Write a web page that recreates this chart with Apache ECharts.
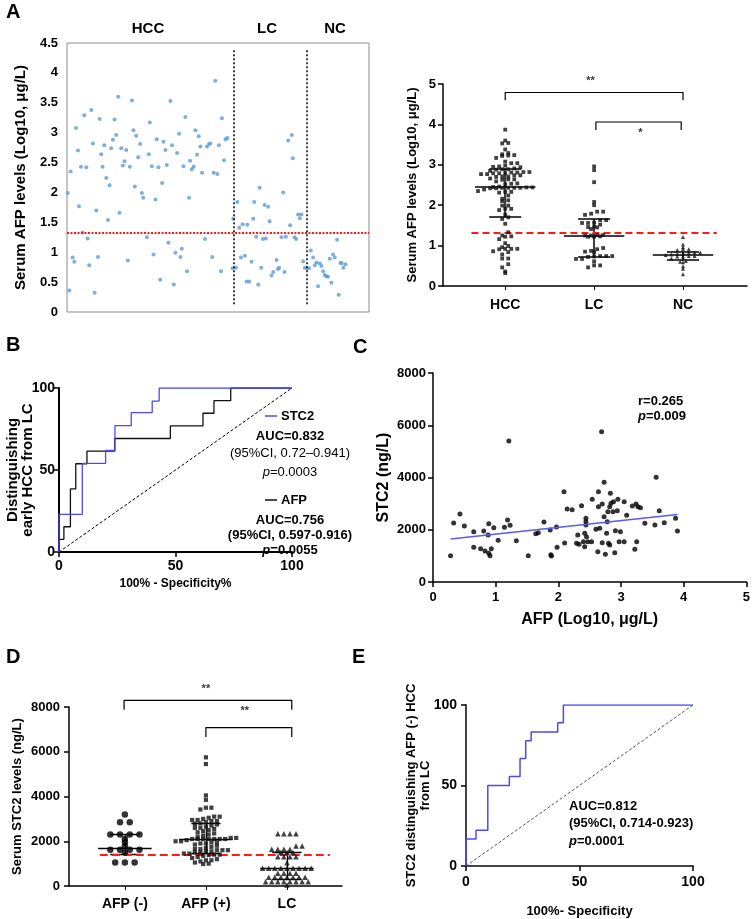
<!DOCTYPE html>
<html><head><meta charset="utf-8">
<script src="https://cdn.jsdelivr.net/npm/echarts@6/dist/echarts.min.js"></script>
<style>html,body{margin:0;padding:0;background:#fff}#c{width:753px;height:919px}</style>
</head><body><div id="c"></div>
<script>
// ---------- Panel A (left): sample position & log10 AFP ----------
const hccPos = [202,207,211,217,222,227,233,236,242,247,252,258,262,267,273,278,283,288,293,298,303,307,312,318,323,328,333,338,343,348,354,358,363,368,373,378,383,389,395,400,404,408,414,420,425,429,440,446,449,455,460,466,470,475,480,486,490,496,500,505,511,516,521,526,531,537,541,545,550,556,561,567,570,575,581,586,591,596,601,606,615,621,627,631,637,641,646,652,657,663,666,672,677,682];
const hccAfp = [1.99,0.36,2.35,0.91,0.84,3.08,2.70,1.77,2.43,1.33,3.29,2.42,1.23,0.78,3.38,2.82,0.32,1.70,0.92,3.23,2.64,2.43,2.79,2.24,1.54,2.12,2.74,2.88,3.22,2.96,3.60,1.66,2.74,2.45,2.52,2.71,0.86,2.43,3.54,3.04,2.10,2.95,2.59,2.81,1.99,1.91,1.25,2.64,3.17,2.44,0.96,1.88,2.89,2.42,0.54,2.16,2.85,2.71,2.46,1.16,3.53,2.79,0.46,0.99,2.66,2.98,0.92,1.06,2.44,3.26,0.68,1.91,2.53,2.39,2.43,3.04,2.63,2.94,2.77,2.33,1.22,2.77,2.81,2.82,0.92,2.33,3.87,2.31,2.79,0.68,3.24,2.54,2.89,2.91];
const lcPos = [698,700,708,712,718,723,728,735,740,742,748,755,760,763,769,775,779,784,789,794,798,805,809,815,820,830,834,838,845,850,854,858,865,871,876,879,884,889,895,900,905,910];
const lcAfp = [0.73,1.56,0.74,1.84,1.41,0.91,1.47,0.94,0.51,1.46,0.51,0.84,1.56,1.84,1.26,0.46,2.08,0.74,1.22,1.79,1.23,1.76,1.52,0.61,0.67,0.87,0.72,0.74,1.25,2.00,0.67,1.26,2.87,1.45,2.96,2.57,1.25,1.22,1.63,1.57,1.63,0.85];
const ncPos = [915,921,928,933,940,945,950,955,960,965,970,975,980,985,990,995,1000,1005,1012,1017,1022,1026,1031,1037];
const ncAfp = [0.74,0.73,0.73,1.03,0.91,0.78,0.83,0.43,0.81,0.77,0.68,0.62,0.60,0.59,0.89,0.49,0.96,0.91,1.21,0.29,0.82,0.82,0.74,0.80];
const afpCutoff = 1.32;
const groupDividers = [700, 920];
const groupsA = ['HCC','LC','NC'];
// Panel A (right) summary: median and interquartile range
const aMed = [2.45, 1.24, 0.77];
const aLow = [1.71, 0.72, 0.64];
const aHigh = [2.90, 1.66, 0.84];

// ---------- Panel B: ROC early HCC vs LC ----------
const bStc2Fpr = [0,0,10,10,20,20,24,24,31,31,40,40,43,43,100];
const bStc2Tpr = [0,23,23,54,54,62,62,77,77,85,85,92,92,100,100];
const bAfpFpr = [0,0,2.1,2.1,4.9,4.9,7.2,7.2,12,12,23.9,23.9,47.8,47.8,61.8,61.8,66.5,66.5,73.7,73.7,100];
const bAfpTpr = [0,7.7,7.7,15.4,15.4,38.5,38.5,53.8,53.8,61.5,61.5,69.2,69.2,76.9,76.9,84.6,84.6,92.3,92.3,100,100];

// ---------- Panel C: STC2 vs AFP ----------
const cAfp = [0.28,0.33,0.43,0.50,0.65,0.65,0.76,0.81,0.83,0.88,0.89,0.89,0.91,0.93,0.97,1.04,1.14,1.19,1.21,1.23,1.33,1.52,1.64,1.68,1.77,1.87,1.88,1.89,1.97,1.98,2.09,2.14,2.10,
2.22,2.37,2.29,2.33,2.31,2.42,2.44,2.44,2.44,2.42,2.45,2.40,2.47,2.53,2.54,2.60,2.64,2.64,2.63,2.66,2.70,2.70,2.73,2.73,2.75,2.69,2.77,2.78,2.79,2.80,2.82,2.82,2.83,2.84,2.87,2.88,2.90,2.91,2.94,2.95,2.97,2.99,3.05,3.05,3.09,3.18,3.22,3.25,3.24,3.27,3.31,3.38,3.54,3.56,3.61,3.69,3.87,3.90];
const cStc2 = [1007,2258,2603,2143,1926,1328,1276,1952,1187,1799,2233,1098,1007,1276,2080,1595,2093,2373,5397,2170,1582,1007,1850,1889,2297,1990,1046,995,2105,1328,3457,2794,1493,
2768,2922,1481,1442,1799,1353,2437,2310,2182,1863,1735,1544,1544,1544,3164,2016,3458,2884,1161,2054,2986,1506,3815,2501,1059,5754,1863,2310,2693,1481,1416,2884,3394,3011,2693,3075,1123,1965,2731,3164,1544,1927,3075,1544,2552,2909,1250,1544,2986,2884,2846,2246,2182,4007,2731,2271,2437,1952];
const regX = [0.28, 3.90];
const regY = [1650, 2585];

// ---------- Panel D: serum STC2 ----------
const groupsD = ['AFP (-)','AFP (+)','LC'];
const dAfpNeg = [3200,2850,2850,2300,2300,2300,2300,2100,1950,1780,1620,1620,1620,1620,1500,1050,1050,1050];
const dAfpPos = [5750,5450,4050,3850,3500,3500,3420,3100,3100,3050,3000,2950,2950,2900,2900,2850,2800,2780,2750,2700,2650,2600,2600,2550,2500,2450,2400,2350,2300,2250,2200,2150,2150,2100,2100,2100,2100,2100,2100,2100,2050,2000,2000,1950,1950,1900,1900,1850,1800,1750,1700,1650,1650,1600,1600,1600,1550,1550,1500,1500,1450,1450,1400,1400,1380,1350,1300,1250,1200,1150,1150,1100,1050,1000,980];
const dLc = [2330,2330,2330,2330,1790,1790,1640,1640,1640,1640,1500,1500,1500,1310,1310,1310,1310,1040,790,790,790,790,790,790,790,790,790,570,570,570,570,390,390,390,390,390,390,390,190,190,190,190,190,190,190,190,50];
const dMed = [1669, 2100, 775];
const dLow = [1400, 1450, 298];
const dHigh = [2300, 2786, 1520];
const stc2Cutoff = 1400;

// ---------- Panel E: ROC AFP(-) HCC vs LC ----------
const eFpr = [0,0,4.4,4.4,9.6,9.6,19.1,19.1,23.8,23.8,26.3,26.3,28.7,28.7,40.4,40.4,42.9,42.9,100];
const eTpr = [0,16.7,16.7,22.2,22.2,50,50,55.6,55.6,66.7,66.7,77.8,77.8,83.3,83.3,88.9,88.9,100,100];

// ---------- helpers ----------
const zip = (a, b) => a.map((v, i) => [v, b[i]]);
function swarm(vals, center, rowH, step) {
  const bins = new Map();
  vals.forEach(v => { const k = Math.round(v / rowH); if (!bins.has(k)) bins.set(k, []); bins.get(k).push(v); });
  const pts = [];
  bins.forEach(arr => { arr.sort((a, b) => a - b); const n = arr.length; arr.forEach((v, i) => pts.push([center + (i - (n - 1) / 2) * step, v])); });
  return pts;
}
function summarySegs(med, low, high, half, cap) {
  const segs = [];
  med.forEach((m, i) => {
    const c = i + 1;
    segs.push({coords: [[c - half, m], [c + half, m]]});
    segs.push({coords: [[c - cap, low[i]], [c + cap, low[i]]]});
    segs.push({coords: [[c - cap, high[i]], [c + cap, high[i]]]});
    segs.push({coords: [[c, low[i]], [c, high[i]]]});
  });
  return segs;
}

const FONT = 'Liberation Sans, Arial, sans-serif';
const BLUE = '#4b4bf2';
const plain = v => String(v);
const boldLbl = (size) => ({fontFamily: FONT, fontWeight: 'bold', fontSize: size, color: '#000'});
function valAxis(gi, o) {
  return Object.assign({
    type: 'value', gridIndex: gi,
    axisLine: {show: true, lineStyle: {color: '#000', width: 1.5}},
    axisTick: {show: true, inside: false, length: 5, lineStyle: {color: '#000', width: 1.5}},
    axisLabel: Object.assign(boldLbl(13), {margin: 6}),
    splitLine: {show: false},
    nameLocation: 'middle', nameTextStyle: boldLbl(13)
  }, o);
}

const chart = echarts.init(document.getElementById('c'), null, {renderer: 'canvas'});
const option = {
  animation: false,
  backgroundColor: '#fff',
  grid: [
    {left: 67, top: 43, width: 302, height: 269, show: true, borderColor: '#8c8c8c', borderWidth: 1},
    {left: 443, top: 84, width: 304, height: 202},
    {left: 59, top: 388, width: 233, height: 164},
    {left: 433, top: 373, width: 314, height: 209},
    {left: 69, top: 707, width: 273, height: 179},
    {left: 466, top: 705, width: 227, height: 161}
  ],
  xAxis: [
    {type: 'value', gridIndex: 0, min: 200, max: 1108, axisLine: {show: false}, axisTick: {show: false}, axisLabel: {show: false}, splitLine: {show: false}},
    valAxis(1, {min: 0.3, max: 3.72,
      axisTick: {show: true, length: 4, customValues: [1, 2, 3], lineStyle: {color: '#000', width: 1}},
      axisLabel: Object.assign(boldLbl(14), {margin: 12, customValues: [1, 2, 3], formatter: v => groupsA[Math.round(v) - 1]})}),
    valAxis(2, {min: 0, max: 100, interval: 50, axisLine: {lineStyle: {color: '#000', width: 2}},
      axisLabel: Object.assign(boldLbl(14), {margin: 7}),
      name: '100% - Specificity%', nameGap: 26, nameTextStyle: boldLbl(12)}),
    valAxis(3, {min: 0, max: 5, interval: 1, axisLabel: Object.assign(boldLbl(13), {margin: 9}),
      name: 'AFP (Log10, μg/L)', nameGap: 30, nameTextStyle: boldLbl(16)}),
    valAxis(4, {min: 0.31, max: 3.68,
      axisTick: {show: true, length: 4, customValues: [1, 2, 3], lineStyle: {color: '#000', width: 1}},
      axisLabel: Object.assign(boldLbl(14), {margin: 11, customValues: [1, 2, 3], formatter: v => groupsD[Math.round(v) - 1]})}),
    valAxis(5, {min: 0, max: 100, interval: 50, axisLine: {lineStyle: {color: '#444', width: 2}},
      axisLabel: Object.assign(boldLbl(14), {margin: 9}),
      name: '100%- Specificity', nameGap: 39, nameTextStyle: boldLbl(13)})
  ],
  yAxis: [
    {type: 'value', gridIndex: 0, min: 0, max: 4.5, interval: 0.5, axisLine: {show: false}, axisTick: {show: false}, splitLine: {show: false},
      axisLabel: Object.assign(boldLbl(13), {margin: 9}),
      name: 'Serum AFP levels (Log10, μg/L)', nameLocation: 'middle', nameGap: 39, nameTextStyle: boldLbl(15)},
    valAxis(1, {min: 0, max: 5, interval: 1, axisLabel: Object.assign(boldLbl(13), {margin: 7}),
      name: 'Serum AFP levels (Log10, μg/L)', nameGap: 24, nameTextStyle: boldLbl(13)}),
    valAxis(2, {min: 0, max: 100, interval: 50, axisLine: {lineStyle: {color: '#000', width: 2}},
      axisLabel: Object.assign(boldLbl(14), {margin: 4}),
      name: 'Distinguishing\nearly HCC from LC', nameGap: 24, nameMoveOverlap: false, nameTextStyle: Object.assign(boldLbl(15), {lineHeight: 15})}),
    valAxis(3, {min: 0, max: 8000, interval: 2000, axisLabel: Object.assign(boldLbl(13), {margin: 7, formatter: plain}),
      name: 'STC2 (ng/L)', nameGap: 41, nameTextStyle: boldLbl(16)}),
    valAxis(4, {min: 0, max: 8000, interval: 2000, axisLabel: Object.assign(boldLbl(13), {margin: 9, formatter: plain}),
      name: 'Serum STC2 levels (ng/L)', nameGap: 45, nameTextStyle: boldLbl(13)}),
    valAxis(5, {min: 0, max: 100, interval: 50, axisLine: {lineStyle: {color: '#444', width: 2}},
      axisLabel: Object.assign(boldLbl(14), {margin: 9}),
      name: 'STC2 distinguishing AFP (-) HCC\nfrom LC', nameGap: 34, nameMoveOverlap: false, nameTextStyle: Object.assign(boldLbl(13), {lineHeight: 14})})
  ],
  series: [
    // ---- A left ----
    {type: 'scatter', xAxisIndex: 0, yAxisIndex: 0, symbolSize: 4, itemStyle: {color: '#5b9bd5'}, data: zip(hccPos, hccAfp),
      markLine: {silent: true, symbol: 'none', label: {show: false},
        data: [
          {yAxis: afpCutoff, lineStyle: {color: '#ff1a1a', type: [2, 1.5], width: 2}},
          [{coord: [groupDividers[0], 4.38]}, {coord: [groupDividers[0], 0.12]}],
          [{coord: [groupDividers[1], 4.38]}, {coord: [groupDividers[1], 0.12]}]
        ],
        lineStyle: {color: '#000', type: [2, 2], width: 1.5}}},
    {type: 'scatter', xAxisIndex: 0, yAxisIndex: 0, symbolSize: 4, itemStyle: {color: '#5b9bd5'}, data: zip(lcPos, lcAfp)},
    {type: 'scatter', xAxisIndex: 0, yAxisIndex: 0, symbolSize: 4, itemStyle: {color: '#5b9bd5'}, data: zip(ncPos, ncAfp)},
    // ---- A right ----
    {type: 'scatter', xAxisIndex: 1, yAxisIndex: 1, symbol: 'rect', symbolSize: 3.8, itemStyle: {color: '#111'}, data: swarm(hccAfp, 1, 0.1, 0.068)},
    {type: 'scatter', xAxisIndex: 1, yAxisIndex: 1, symbol: 'rect', symbolSize: 3.8, itemStyle: {color: '#111'}, data: swarm(lcAfp, 2, 0.1, 0.068)},
    {type: 'scatter', xAxisIndex: 1, yAxisIndex: 1, symbol: 'triangle', symbolSize: 4, itemStyle: {color: '#111'}, data: swarm(ncAfp, 3, 0.08, 0.065)},
    {type: 'lines', coordinateSystem: 'cartesian2d', xAxisIndex: 1, yAxisIndex: 1, lineStyle: {color: '#000', width: 1.5, opacity: 1}, data: summarySegs(aMed, aLow, aHigh, 0.34, 0.18)},
    {type: 'lines', coordinateSystem: 'cartesian2d', xAxisIndex: 1, yAxisIndex: 1, lineStyle: {color: '#ff1a1a', width: 2, type: [7, 4], opacity: 1},
      data: [{coords: [[0.62, afpCutoff], [3.38, afpCutoff]]}]},
    {type: 'lines', coordinateSystem: 'cartesian2d', xAxisIndex: 1, yAxisIndex: 1, polyline: true, clip: false, lineStyle: {color: '#000', width: 1.2, opacity: 1},
      data: [{coords: [[1, 4.6], [1, 4.79], [3, 4.79], [3, 4.6]]}, {coords: [[2.02, 3.86], [2.02, 4.06], [2.98, 4.06], [2.98, 3.86]]}]},
    {type: 'scatter', xAxisIndex: 1, yAxisIndex: 1, symbolSize: 0, clip: false, itemStyle: {color: 'transparent'},
      label: {show: true, position: 'inside', formatter: p => p.data[2], fontFamily: FONT, fontWeight: 'bold', fontSize: 11, color: '#000'},
      data: [[1.96, 5.08, '**'], [2.52, 3.78, '*']]},
    // ---- B ----
    {type: 'line', xAxisIndex: 2, yAxisIndex: 2, symbol: 'none', lineStyle: {color: '#000', width: 1, type: [3, 2]}, data: [[0, 0], [100, 100]]},
    {type: 'line', xAxisIndex: 2, yAxisIndex: 2, symbol: 'none', lineStyle: {color: '#111', width: 1.3}, data: zip(bAfpFpr, bAfpTpr)},
    {type: 'line', xAxisIndex: 2, yAxisIndex: 2, symbol: 'none', lineStyle: {color: BLUE, width: 1.3}, data: zip(bStc2Fpr, bStc2Tpr)},
    // ---- C ----
    {type: 'scatter', xAxisIndex: 3, yAxisIndex: 3, symbolSize: 5, itemStyle: {color: '#000'}, data: zip(cAfp, cStc2)},
    {type: 'line', xAxisIndex: 3, yAxisIndex: 3, symbol: 'none', lineStyle: {color: '#5a5af0', width: 1.5}, data: zip(regX, regY)},
    // ---- D ----
    {type: 'scatter', xAxisIndex: 4, yAxisIndex: 4, symbol: 'circle', symbolSize: 6.5, itemStyle: {color: '#000'}, data: swarm(dAfpNeg, 1, 150, 0.12)},
    {type: 'scatter', xAxisIndex: 4, yAxisIndex: 4, symbol: 'rect', symbolSize: 4.2, itemStyle: {color: '#111'}, data: swarm(dAfpPos, 2, 190, 0.068)},
    {type: 'scatter', xAxisIndex: 4, yAxisIndex: 4, symbol: 'triangle', symbolSize: 5.5, itemStyle: {color: '#111'}, data: swarm(dLc, 3, 190, 0.075)},
    {type: 'lines', coordinateSystem: 'cartesian2d', xAxisIndex: 4, yAxisIndex: 4, lineStyle: {color: '#000', width: 1.3, opacity: 1}, data: summarySegs(dMed, dLow, dHigh, 0.33, 0.18)},
    {type: 'lines', coordinateSystem: 'cartesian2d', xAxisIndex: 4, yAxisIndex: 4, lineStyle: {color: '#ff1a1a', width: 2.2, type: [8, 4], opacity: 1},
      data: [{coords: [[0.69, stc2Cutoff], [3.53, stc2Cutoff]]}]},
    {type: 'lines', coordinateSystem: 'cartesian2d', xAxisIndex: 4, yAxisIndex: 4, polyline: true, clip: false, lineStyle: {color: '#000', width: 1.2, opacity: 1},
      data: [{coords: [[0.99, 7880], [0.99, 8298], [3.06, 8298], [3.06, 7880]]}, {coords: [[2.0, 6659], [2.0, 7076], [3.06, 7076], [3.06, 6659]]}]},
    {type: 'scatter', xAxisIndex: 4, yAxisIndex: 4, symbolSize: 0, clip: false, itemStyle: {color: 'transparent'},
      label: {show: true, position: 'inside', formatter: p => p.data[2], fontFamily: FONT, fontWeight: 'bold', fontSize: 11, color: '#000'},
      data: [[2.0, 8790, '**'], [2.48, 7821, '**']]},
    // ---- E ----
    {type: 'line', xAxisIndex: 5, yAxisIndex: 5, symbol: 'none', lineStyle: {color: '#555', width: 1, type: [3, 2]}, data: [[0, 0], [100, 100]]},
    {type: 'line', xAxisIndex: 5, yAxisIndex: 5, symbol: 'none', lineStyle: {color: BLUE, width: 1.5}, data: zip(eFpr, eTpr)}
  ],
  graphic: [
    {type: 'text', left: 6, top: 2, style: {text: 'A', font: 'bold 20px ' + FONT, fill: '#000'}},
    {type: 'text', left: 6, top: 335, style: {text: 'B', font: 'bold 20px ' + FONT, fill: '#000'}},
    {type: 'text', left: 353, top: 337, style: {text: 'C', font: 'bold 20px ' + FONT, fill: '#000'}},
    {type: 'text', left: 6, top: 647, style: {text: 'D', font: 'bold 20px ' + FONT, fill: '#000'}},
    {type: 'text', left: 352, top: 647, style: {text: 'E', font: 'bold 20px ' + FONT, fill: '#000'}},
    {type: 'text', x: 148, y: 29, style: {text: 'HCC', font: 'bold 15px ' + FONT, fill: '#000', textAlign: 'center', textVerticalAlign: 'middle'}},
    {type: 'text', x: 267, y: 29, style: {text: 'LC', font: 'bold 15px ' + FONT, fill: '#000', textAlign: 'center', textVerticalAlign: 'middle'}},
    {type: 'text', x: 335, y: 29, style: {text: 'NC', font: 'bold 15px ' + FONT, fill: '#000', textAlign: 'center', textVerticalAlign: 'middle'}},
    // B legend & stats
    {type: 'line', shape: {x1: 265, y1: 416, x2: 277, y2: 416}, style: {stroke: BLUE, lineWidth: 1.5}},
    {type: 'text', x: 281, y: 416, style: {text: 'STC2', font: 'bold 13px ' + FONT, fill: '#000', textVerticalAlign: 'middle'}},
    {type: 'text', x: 290, y: 436, style: {text: 'AUC=0.832', font: 'bold 13px ' + FONT, fill: '#000', textAlign: 'center', textVerticalAlign: 'middle'}},
    {type: 'text', x: 290, y: 453, style: {text: '(95%CI, 0.72\u20130.941)', font: '13px ' + FONT, fill: '#000', textAlign: 'center', textVerticalAlign: 'middle'}},
    {type: 'text', x: 290, y: 472, style: {text: '{i|p}=0.0003', font: '13px ' + FONT, fill: '#000', textAlign: 'center', textVerticalAlign: 'middle', rich: {i: {fontStyle: 'italic', fontSize: 13, fontFamily: FONT}}}},
    {type: 'line', shape: {x1: 265, y1: 500, x2: 277, y2: 500}, style: {stroke: '#111', lineWidth: 1.5}},
    {type: 'text', x: 281, y: 500, style: {text: 'AFP', font: 'bold 13px ' + FONT, fill: '#000', textVerticalAlign: 'middle'}},
    {type: 'text', x: 290, y: 520, style: {text: 'AUC=0.756', font: 'bold 13px ' + FONT, fill: '#000', textAlign: 'center', textVerticalAlign: 'middle'}},
    {type: 'text', x: 290, y: 535, style: {text: '(95%CI, 0.597-0.916)', font: 'bold 13px ' + FONT, fill: '#000', textAlign: 'center', textVerticalAlign: 'middle'}},
    {type: 'text', x: 290, y: 550, style: {text: '{i|p}=0.0055', font: 'bold 13px ' + FONT, fill: '#000', textAlign: 'center', textVerticalAlign: 'middle', rich: {i: {fontStyle: 'italic', fontWeight: 'bold', fontSize: 13, fontFamily: FONT}}}},
    // C stats
    {type: 'text', x: 638, y: 401, style: {text: 'r=0.265', font: 'bold 13px ' + FONT, fill: '#000', textVerticalAlign: 'middle'}},
    {type: 'text', x: 638, y: 416, style: {text: '{i|p}=0.009', font: 'bold 13px ' + FONT, fill: '#000', textVerticalAlign: 'middle', rich: {i: {fontStyle: 'italic', fontWeight: 'bold', fontSize: 13, fontFamily: FONT}}}},
    // E stats
    {type: 'text', x: 569, y: 806, style: {text: 'AUC=0.812', font: 'bold 13px ' + FONT, fill: '#000', textVerticalAlign: 'middle'}},
    {type: 'text', x: 569, y: 823, style: {text: '(95%CI, 0.714-0.923)', font: 'bold 13px ' + FONT, fill: '#000', textVerticalAlign: 'middle'}},
    {type: 'text', x: 569, y: 841, style: {text: '{i|p}=0.0001', font: 'bold 13px ' + FONT, fill: '#000', textVerticalAlign: 'middle', rich: {i: {fontStyle: 'italic', fontWeight: 'bold', fontSize: 13, fontFamily: FONT}}}}
  ]
};
chart.setOption(option);
</script></body></html>
